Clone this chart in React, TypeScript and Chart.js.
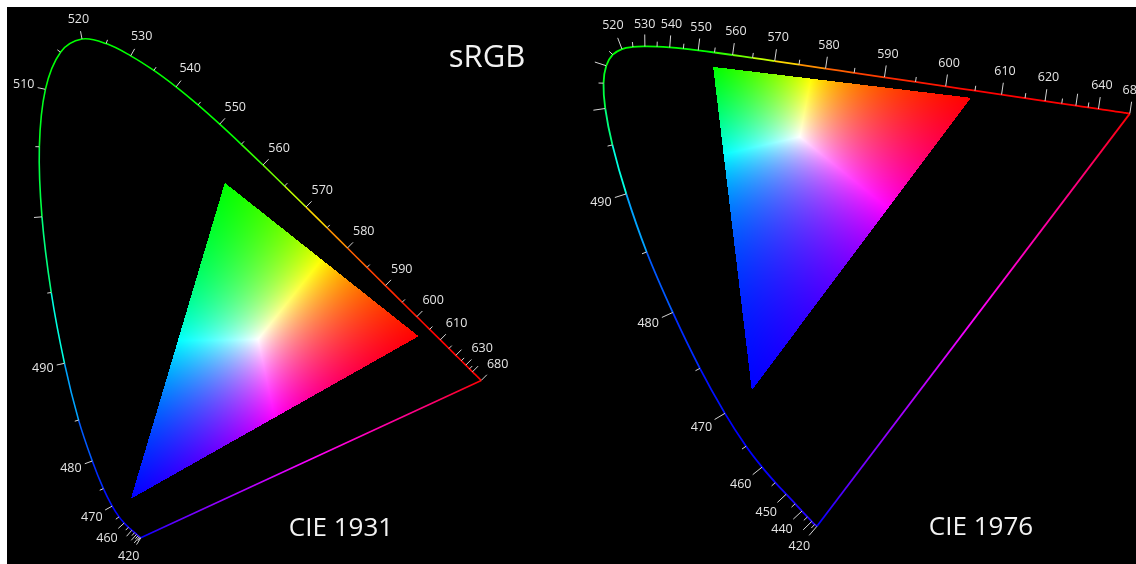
import React, { useEffect, useRef } from 'react';
import { Chart, registerables } from 'chart.js';

Chart.register(...registerables);

// Spectral locus (CIE 1931 2° chromaticity), nm
const WAVELENGTHS = [
  420, 425, 430, 435, 440, 445, 450, 455, 460, 465, 470, 475, 480, 485, 490, 495, 500, 505,
  510, 515, 520, 525, 530, 535, 540, 545, 550, 555, 560, 565, 570, 575, 580, 585, 590, 595,
  600, 605, 610, 615, 620, 625, 630, 635, 640, 645, 650, 655, 660, 665, 670, 675, 680,
];
const LOCUS_X = [
  0.1714, 0.1703, 0.1689, 0.1669, 0.1644, 0.1611, 0.1566, 0.151, 0.144, 0.1355, 0.1241, 0.1096,
  0.0913, 0.0687, 0.0454, 0.0235, 0.0082, 0.0039, 0.0139, 0.0389, 0.0743, 0.1142, 0.1547, 0.1929,
  0.2296, 0.2658, 0.3016, 0.3373, 0.3731, 0.4087, 0.4441, 0.4788, 0.5125, 0.5448, 0.5752, 0.6029,
  0.627, 0.6482, 0.6658, 0.6801, 0.6915, 0.7006, 0.7079, 0.714, 0.719, 0.723, 0.726, 0.7283,
  0.73, 0.7311, 0.732, 0.7327, 0.7334,
];
const LOCUS_Y = [
  0.0051, 0.0058, 0.0069, 0.0086, 0.0109, 0.0138, 0.0177, 0.0227, 0.0297, 0.0399, 0.0578, 0.0868,
  0.1327, 0.2007, 0.295, 0.4127, 0.5384, 0.6548, 0.7502, 0.812, 0.8338, 0.8262, 0.8059, 0.7816,
  0.7543, 0.7243, 0.6923, 0.6589, 0.6245, 0.5896, 0.5547, 0.5202, 0.4866, 0.4544, 0.4242, 0.3965,
  0.3725, 0.3514, 0.334, 0.3197, 0.3083, 0.2993, 0.292, 0.2859, 0.2809, 0.277, 0.274, 0.2717,
  0.27, 0.2689, 0.268, 0.2673, 0.2666,
];

// Wavelengths that get a tick mark
const TICK_WAVELENGTHS = [
  420, 425, 430, 435, 440, 445, 450, 455, 460, 465, 470, 475, 480, 485, 490, 495, 500, 505,
  510, 515, 520, 525, 530, 535, 540, 545, 550, 555, 560, 565, 570, 575, 580, 585, 590, 595,
  600, 605, 610, 615, 620, 625, 630, 635, 640, 680,
];
const LABELS_1931 = [420, 460, 470, 480, 490, 510, 520, 530, 540, 550, 560, 570, 580, 590, 600, 610, 630, 680];
const LABELS_1976 = [420, 440, 450, 460, 470, 480, 490, 520, 530, 540, 550, 560, 570, 580, 590, 600, 610, 620, 640, 680];

// Gamut triangle primaries (R, G, B), xy
const PRIMARY_X = [0.63, 0.31, 0.155];
const PRIMARY_Y = [0.34, 0.595, 0.07];

type Conv = (a: number, b: number) => [number, number];
const identity: Conv = (a, b) => [a, b];
const xyToUv: Conv = (x, y) => {
  const d = -2 * x + 12 * y + 3;
  return [(4 * x) / d, (9 * y) / d];
};
const uvToXy: Conv = (u, v) => {
  const d = 6 * u - 16 * v + 12;
  return [(9 * u) / d, (4 * v) / d];
};

function spectralColor(x: number, y: number): string {
  const X = x / y;
  const Z = (1 - x - y) / y;
  let r = 3.2406 * X - 1.5372 - 0.4986 * Z;
  let g = -0.9689 * X + 1.8758 + 0.0415 * Z;
  let b = 0.0557 * X - 0.204 + 1.057 * Z;
  r = Math.max(0, r);
  g = Math.max(0, g);
  b = Math.max(0, b);
  const m = Math.max(r, g, b) || 1;
  return `rgb(${Math.round((255 * r) / m)},${Math.round((255 * g) / m)},${Math.round((255 * b) / m)})`;
}

interface DiagramCfg {
  toChart: Conv;
  toXY: Conv;
  labels: number[];
  majorLen: number;
  minorLen: number;
  lineWidth: number;
  xMin: number;
  xMax: number;
  yMin: number;
  yMax: number;
  width: number;
  height: number;
  titles: { text: string; x: number; y: number; size: number }[];
}

function purpleGradient(chart: any, cfg: DiagramCfg): any {
  const xs = chart.scales && chart.scales.x;
  const ys = chart.scales && chart.scales.y;
  if (!xs || !ys || !chart.chartArea) return '#ff00ff';
  const last = WAVELENGTHS.length - 1;
  const [ax, ay] = cfg.toChart(LOCUS_X[last], LOCUS_Y[last]);
  const [bx, by] = cfg.toChart(LOCUS_X[0], LOCUS_Y[0]);
  const c = [xs.getPixelForValue(ax), ys.getPixelForValue(ay), xs.getPixelForValue(bx), ys.getPixelForValue(by)];
  if (!c.every((v) => Number.isFinite(v))) return '#ff00ff';
  const g = chart.ctx.createLinearGradient(c[0], c[1], c[2], c[3]);
  const stops = [0, 0.15, 0.3, 0.5, 0.65, 0.8, 0.9, 1];
  stops.forEach((t) => {
    const r = 1 - t;
    const b = t;
    const m = Math.max(r, b);
    const R = Math.round(255 * Math.pow(r / m, 1 / 2.2));
    const B = Math.round(255 * Math.pow(b / m, 1 / 2.2));
    g.addColorStop(t, `rgb(${R},0,${B})`);
  });
  return g;
}

function makePlugin(cfg: DiagramCfg) {
  return {
    id: 'cieDecor',
    beforeDatasetsDraw(chart: any) {
      // gradient for the line of purples
      const meta = chart.getDatasetMeta(1);
      if (meta && meta.dataset && meta.dataset.options) {
        meta.dataset.options.borderColor = purpleGradient(chart, cfg);
      }
      const xs = chart.scales.x;
      const ys = chart.scales.y;
      const px = PRIMARY_X.map((x, i) => {
        const [cx, cy] = cfg.toChart(x, PRIMARY_Y[i]);
        return [xs.getPixelForValue(cx), ys.getPixelForValue(cy)];
      });
      const x0 = Math.floor(Math.min(...px.map((p) => p[0])));
      const x1 = Math.ceil(Math.max(...px.map((p) => p[0])));
      const y0 = Math.floor(Math.min(...px.map((p) => p[1])));
      const y1 = Math.ceil(Math.max(...px.map((p) => p[1])));
      const w = x1 - x0 + 1;
      const h = y1 - y0 + 1;
      if (!(w > 0 && h > 0 && Number.isFinite(w) && Number.isFinite(h))) return;
      const off = document.createElement('canvas');
      off.width = w;
      off.height = h;
      const octx = off.getContext('2d')!;
      const img = octx.createImageData(w, h);
      const [xr, xg, xb] = PRIMARY_X;
      const [yr, yg, yb] = PRIMARY_Y;
      const det = (yg - yb) * (xr - xb) + (xb - xg) * (yr - yb);
      for (let j = 0; j < h; j++) {
        const cy = ys.getValueForPixel(y0 + j + 0.5);
        for (let i = 0; i < w; i++) {
          const cx = xs.getValueForPixel(x0 + i + 0.5);
          const [x, y] = cfg.toXY(cx, cy);
          const l1 = ((yg - yb) * (x - xb) + (xb - xg) * (y - yb)) / det;
          const l2 = ((yb - yr) * (x - xb) + (xr - xb) * (y - yb)) / det;
          const l3 = 1 - l1 - l2;
          if (l1 < 0 || l2 < 0 || l3 < 0) continue;
          const m = Math.max(l1, l2, l3);
          const k = (j * w + i) * 4;
          img.data[k] = Math.round((255 * l1) / m);
          img.data[k + 1] = Math.round((255 * l2) / m);
          img.data[k + 2] = Math.round((255 * l3) / m);
          img.data[k + 3] = 255;
        }
      }
      octx.putImageData(img, 0, 0);
      chart.ctx.drawImage(off, x0, y0);
    },
    afterDatasetsDraw(chart: any) {
      const ctx = chart.ctx as CanvasRenderingContext2D;
      const xs = chart.scales.x;
      const ys = chart.scales.y;
      const pts = WAVELENGTHS.map((_, i) => {
        const [cx, cy] = cfg.toChart(LOCUS_X[i], LOCUS_Y[i]);
        return [xs.getPixelForValue(cx), ys.getPixelForValue(cy)];
      });
      const n = pts.length;
      ctx.save();
      ctx.strokeStyle = '#d4d4d4';
      ctx.lineWidth = 1;
      ctx.fillStyle = '#e4e4e4';
      ctx.font = '12.5px "Open Sans", "DejaVu Sans", sans-serif';
      ctx.textAlign = 'center';
      ctx.textBaseline = 'middle';
      TICK_WAVELENGTHS.forEach((wl) => {
        const i = WAVELENGTHS.indexOf(wl);
        if (i < 0) return;
        const a = pts[Math.max(0, i - 1)];
        const b = pts[Math.min(n - 1, i + 1)];
        let tx = b[0] - a[0];
        let ty = b[1] - a[1];
        const L = Math.hypot(tx, ty) || 1;
        tx /= L;
        ty /= L;
        const nx = ty;
        const ny = -tx;
        const major = wl % 10 === 0;
        const len = major ? cfg.majorLen : cfg.minorLen;
        const p = pts[i];
        ctx.beginPath();
        ctx.moveTo(p[0], p[1]);
        ctx.lineTo(p[0] + nx * len, p[1] + ny * len);
        ctx.stroke();
        if (cfg.labels.includes(wl)) {
          const text = String(wl);
          const tw = ctx.measureText(text).width;
          const d = len + 2 + (Math.abs(nx) * tw) / 2 + Math.abs(ny) * 8;
          ctx.fillText(text, p[0] + nx * d, p[1] + ny * d);
        }
      });
      ctx.restore();
    },
    afterDraw(chart: any) {
      const ctx = chart.ctx as CanvasRenderingContext2D;
      ctx.save();
      ctx.fillStyle = '#f2f2f2';
      ctx.textAlign = 'center';
      ctx.textBaseline = 'alphabetic';
      cfg.titles.forEach((t) => {
        ctx.font = `${t.size}px "Open Sans", "DejaVu Sans", sans-serif`;
        ctx.fillText(t.text, t.x, t.y);
      });
      ctx.restore();
    },
  };
}

function Diagram({ cfg, left }: { cfg: DiagramCfg; left: number }) {
  const ref = useRef<HTMLCanvasElement>(null);
  useEffect(() => {
    if (!ref.current) return;
    const locus = WAVELENGTHS.map((_, i) => {
      const [x, y] = cfg.toChart(LOCUS_X[i], LOCUS_Y[i]);
      return { x, y };
    });
    const purple = [locus[locus.length - 1], locus[0]];
    const chart = new Chart(ref.current, {
      type: 'line',
      data: {
        datasets: [
          {
            data: locus,
            borderWidth: cfg.lineWidth,
            borderColor: '#00ff00',
            pointRadius: 0,
            pointHoverRadius: 0,
            fill: false,
            tension: 0.35,
            segment: {
              borderColor: (s: any) => {
                const i = s.p0DataIndex;
                const j = s.p1DataIndex;
                return spectralColor((LOCUS_X[i] + LOCUS_X[j]) / 2, (LOCUS_Y[i] + LOCUS_Y[j]) / 2);
              },
            },
          } as any,
          {
            data: purple,
            borderWidth: cfg.lineWidth,
            borderColor: '#ff00ff',
            pointRadius: 0,
            pointHoverRadius: 0,
            fill: false,
            tension: 0,
          } as any,
        ],
      },
      options: {
        animation: false,
        responsive: false,
        events: [],
        layout: { padding: 0 },
        plugins: { legend: { display: false }, tooltip: { enabled: false } },
        scales: {
          x: { type: 'linear', min: cfg.xMin, max: cfg.xMax, display: false, bounds: 'data' },
          y: { type: 'linear', min: cfg.yMin, max: cfg.yMax, display: false, bounds: 'data' },
        },
      } as any,
      plugins: [makePlugin(cfg)],
    });
    return () => chart.destroy();
  }, [cfg]);
  return (
    <div style={{ position: 'absolute', left, top: 0, width: cfg.width, height: cfg.height }}>
      <canvas ref={ref} width={cfg.width} height={cfg.height} style={{ display: 'block' }} />
    </div>
  );
}

const CFG_1931: DiagramCfg = {
  toChart: identity,
  toXY: identity,
  labels: LABELS_1931,
  majorLen: 8,
  minorLen: 4,
  lineWidth: 1.6,
  xMin: -0.04953,
  xMax: 0.87502,
  yMin: -0.03838,
  yMax: 0.88703,
  width: 560,
  height: 557,
  titles: [
    { text: 'sRGB', x: 480, y: 60, size: 31 },
    { text: 'CIE 1931', x: 334, y: 529, size: 26 },
  ],
};

const CFG_1976: DiagramCfg = {
  toChart: xyToUv,
  toXY: uvToXy,
  labels: LABELS_1976,
  majorLen: 12,
  minorLen: 5,
  lineWidth: 1.8,
  xMin: -0.04148,
  xMax: 0.62714,
  yMin: -0.02791,
  yMax: 0.63361,
  width: 569,
  height: 557,
  titles: [{ text: 'CIE 1976', x: 414, y: 528, size: 26 }],
};

export default function App() {
  return (
    <div
      style={{
        position: 'fixed',
        left: 7,
        top: 7,
        width: 1129,
        height: 557,
        background: '#000',
        overflow: 'hidden',
      }}
    >
      <Diagram cfg={CFG_1931} left={0} />
      <Diagram cfg={CFG_1976} left={560} />
    </div>
  );
}
